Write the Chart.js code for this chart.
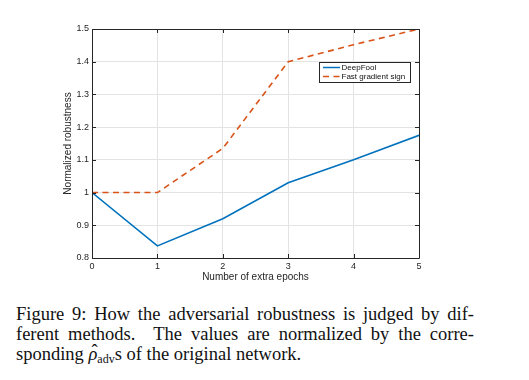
<!DOCTYPE html>
<html>
<head>
  <title>Adversarial robustness vs extra epochs</title>
  <script src="https://cdn.jsdelivr.net/npm/chart.js"></script>
  <style>
    html, body { margin: 0; padding: 0; background: #fff; }
    body { width: 529px; height: 380px; position: relative; overflow: hidden; }
    #wrap { position: absolute; left: 0; top: 0; width: 529px; height: 283px; }
    #caption {
      position: absolute; left: 16px; top: 304px; width: 458px;
      font-family: "Liberation Serif", "Times New Roman", serif;
      font-size: 18.5px; line-height: 20px; color: #111;
    }
    #caption .j { text-align: justify; text-align-last: justify; white-space: nowrap; }
    #caption sub { font-size: 12px; vertical-align: -3px; line-height: 0; }
    .rho { position: relative; font-style: italic; }
    .rho .hat { position: absolute; left: 3px; top: -3px; font-style: normal; }
  </style>
</head>
<body>
  <div id="wrap"><canvas id="lineChart"></canvas></div>
  <div id="caption">
    <div class="j">Figure 9: How the adversarial robustness is judged by dif-</div>
    <div class="j">ferent methods. &nbsp;The values are normalized by the corre-</div>
    <div>sponding <span class="rho">&rho;<span class="hat">&#710;</span></span><sub>adv</sub>s of the original network.</div>
  </div>

  <script>
    // data
    var epochs = [0, 1, 2, 3, 4, 5];
    var deepFool = [1.0, 0.837, 0.92, 1.03, 1.10, 1.175];
    var fastGradient = [1.0, 1.0, 1.135, 1.40, 1.452, 1.50];
    var yTicks = [0.8, 0.9, 1, 1.1, 1.2, 1.3, 1.4, 1.5];

    var axisColor = '#262626';
    var fontFamily = '"Liberation Sans", Arial, sans-serif';

    function toPoints(xs, ys) {
      return xs.map(function(x, i) { return { x: x, y: ys[i] }; });
    }

    // MATLAB style box with inward ticks on all four sides
    var boxPlugin = {
      id: 'box',
      afterDatasetsDraw: function(chart) {
        var ctx = chart.ctx, a = chart.chartArea;
        var xs = chart.scales.x, ys = chart.scales.y;
        ctx.save();
        ctx.strokeStyle = axisColor;
        ctx.lineWidth = 1;
        ctx.beginPath();
        ctx.rect(Math.round(a.left) + 0.5, Math.round(a.top) + 0.5,
                 Math.round(a.right - a.left), Math.round(a.bottom - a.top));
        epochs.forEach(function(v) {
          var px = Math.round(xs.getPixelForValue(v)) + 0.5;
          ctx.moveTo(px, a.bottom); ctx.lineTo(px, a.bottom - 4);
          ctx.moveTo(px, a.top); ctx.lineTo(px, a.top + 4);
        });
        yTicks.forEach(function(v) {
          var py = Math.round(ys.getPixelForValue(v)) + 0.5;
          ctx.moveTo(a.left, py); ctx.lineTo(a.left + 4, py);
          ctx.moveTo(a.right, py); ctx.lineTo(a.right - 4, py);
        });
        ctx.stroke();
        ctx.restore();
      }
    };

    // legend box inside the top right of the plot
    var legendPlugin = {
      id: 'insideLegend',
      afterDraw: function(chart) {
        var ctx = chart.ctx, a = chart.chartArea;
        var w = 91, h = 20, x0 = a.right - 9 - w, y0 = a.top + 33;
        ctx.save();
        ctx.fillStyle = '#fff';
        ctx.fillRect(x0, y0, w, h);
        ctx.strokeStyle = axisColor;
        ctx.lineWidth = 1;
        ctx.strokeRect(x0 + 0.5, y0 + 0.5, w, h);
        ctx.font = '8px ' + fontFamily;
        ctx.textBaseline = 'middle';
        chart.data.datasets.forEach(function(ds, i) {
          var yy = y0 + 5.5 + i * 9;
          ctx.strokeStyle = ds.borderColor;
          ctx.lineWidth = 1.5;
          ctx.setLineDash(ds.borderDash || []);
          ctx.beginPath();
          ctx.moveTo(x0 + 4, yy); ctx.lineTo(x0 + 21, yy);
          ctx.stroke();
          ctx.setLineDash([]);
          ctx.fillStyle = '#111';
          ctx.fillText(ds.label, x0 + 22.5, yy + 0.5);
        });
        ctx.restore();
      }
    };

    new Chart(document.getElementById('lineChart'), {
      type: 'line',
      data: {
        datasets: [{
          label: 'DeepFool',
          data: toPoints(epochs, deepFool),
          borderColor: '#0072BD',
          borderWidth: 1.6,
          pointRadius: 0,
          fill: false
        }, {
          label: 'Fast gradient sign',
          data: toPoints(epochs, fastGradient),
          borderColor: '#D95319',
          borderWidth: 1.6,
          borderDash: [6, 4.5],
          pointRadius: 0,
          fill: false
        }]
      },
      options: {
        responsive: true,
        maintainAspectRatio: false,
        animation: false,
        events: [],
        layout: { padding: { left: 62, top: 29, right: 110, bottom: 0 } },
        plugins: { legend: { display: false }, tooltip: { enabled: false } },
        scales: {
          x: {
            type: 'linear',
            min: 0, max: 5,
            afterFit: function(axis) { axis.height = 25; },
            afterBuildTicks: function(axis) {
              axis.ticks = epochs.map(function(v) { return { value: v }; });
            },
            grid: { color: '#e3e3e3', lineWidth: 1, drawTicks: false, drawOnChartArea: true },
            border: { display: false },
            ticks: { color: axisColor, padding: 3, font: { family: fontFamily, size: 9 } },
            title: {
              display: true, text: 'Number of extra epochs', color: axisColor,
              padding: { top: 0, bottom: 0 }, font: { family: fontFamily, size: 10 }
            }
          },
          y: {
            type: 'linear',
            min: 0.8, max: 1.5,
            afterFit: function(axis) { axis.width = 30; },
            afterBuildTicks: function(axis) {
              axis.ticks = yTicks.map(function(v) { return { value: v }; });
            },
            grid: { color: '#e3e3e3', lineWidth: 1, drawTicks: false },
            border: { display: false },
            ticks: {
              color: axisColor, padding: 3, font: { family: fontFamily, size: 9 },
              callback: function(value) { return String(Math.round(value * 10) / 10); }
            },
            title: {
              display: true, text: 'Normalized robustness', color: axisColor,
              padding: { top: 0, bottom: 0 }, font: { family: fontFamily, size: 10 }
            }
          }
        }
      },
      plugins: [boxPlugin, legendPlugin]
    });
  </script>
</body>
</html>
